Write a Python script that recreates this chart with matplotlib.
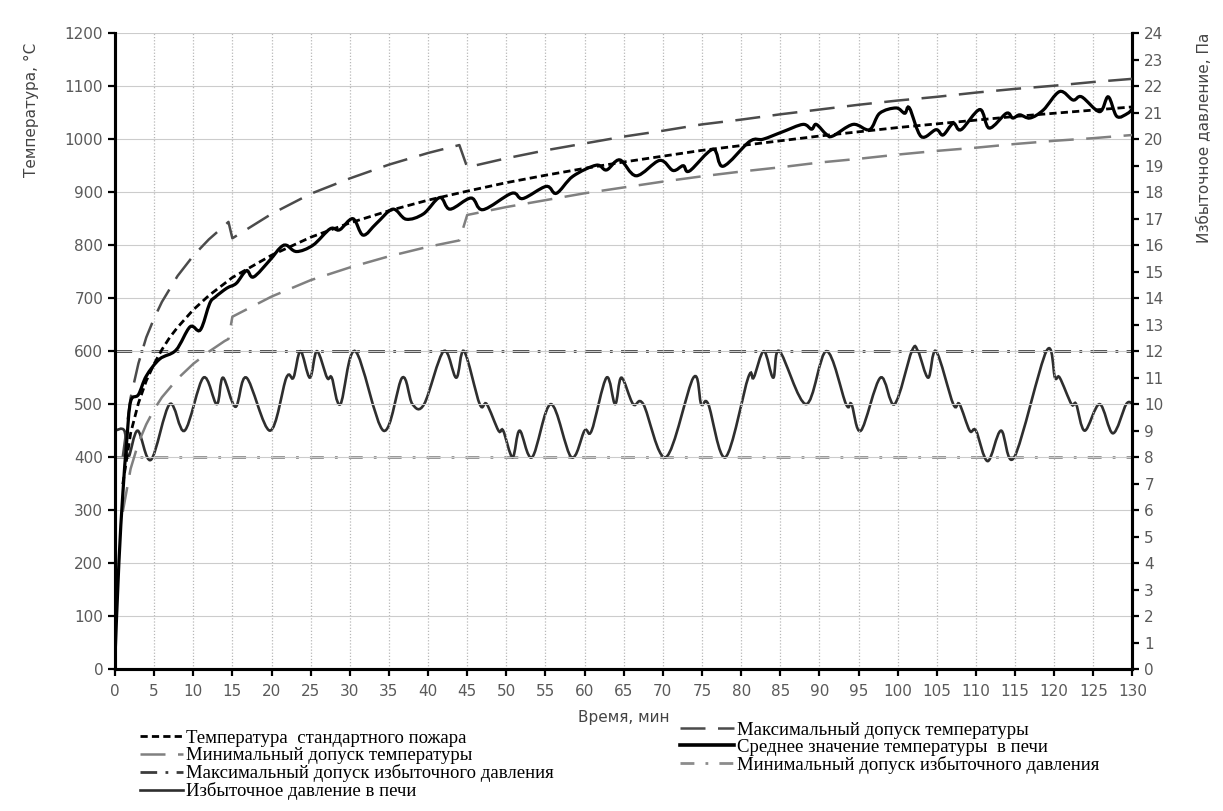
import numpy as np
import matplotlib
matplotlib.use("Agg")
import matplotlib.pyplot as plt
from matplotlib.path import Path
from matplotlib.patches import PathPatch
from matplotlib.lines import Line2D

# ---------------- data ----------------
# Standard fire temperature, °C
std_t = [1, 2, 3, 4, 5, 6, 7, 8, 10, 12, 15, 20, 25, 30, 35, 40, 45, 50, 55, 60,
         65, 70, 75, 80, 85, 90, 95, 100, 105, 110, 115, 120, 125, 130]
std_v = [349, 445, 502, 544, 576, 603, 626, 645, 678, 705, 739, 781, 815, 842, 865,
         885, 902, 918, 932, 945, 957, 968, 979, 988, 997, 1006, 1014, 1022, 1029,
         1036, 1043, 1049, 1055, 1061]

# Temperature tolerance band, °C
tol_t = [1, 2, 3, 4, 5, 6, 8, 10, 12, 14, 14.5, 15, 20, 25, 30, 35, 40, 44, 45, 50,
         55, 60, 65, 70, 75, 80, 85, 90, 95, 100, 105, 110, 115, 120, 125, 130]
tmax_v = [401, 512, 577, 626, 662, 693, 742, 780, 811, 837, 844, 813, 859, 897, 926,
          952, 974, 989, 947, 964, 979, 992, 1005, 1016, 1028, 1037, 1047, 1056, 1065,
          1073, 1080, 1088, 1095, 1101, 1108, 1114]
tmin_v = [297, 378, 427, 462, 490, 513, 548, 576, 599, 619, 623, 665, 703, 734, 758,
          779, 797, 809, 857, 872, 885, 898, 909, 920, 930, 939, 947, 956, 963, 971,
          978, 984, 991, 997, 1002, 1008]

# Mean furnace temperature, °C
temp_t = [0, 0.5, 1.0, 1.5, 2.0, 3.0, 4.0, 5.7, 7.8, 9.6, 10.9, 12.1, 12.8, 14.3, 15.5,
          16.8, 17.7, 19.8, 21.1, 21.9, 23.2, 25.3, 27.5, 28.7, 30.4, 31.7, 33.4, 35.5,
          37.2, 39.4, 41.5, 42.8, 45.5, 47.0, 50.7, 52.1, 55.1, 56.4, 58.5, 61.5, 62.8,
          64.5, 66.6, 69.6, 71.3, 72.6, 73.4, 76.4, 77.7, 81.1, 82.8, 85.3, 87.9, 89.0,
          89.6, 90.9, 91.7, 94.3, 96.4, 97.7, 99.8, 100.9, 101.5, 103.0, 104.9, 105.8,
          107.1, 108.1, 110.5, 111.7, 113.9, 114.7, 115.6, 116.9, 118.6, 120.7, 122.4,
          123.5, 125.8, 126.9, 128.0, 129.4, 130.0]
temp_v = [20, 200, 330, 430, 505, 518, 553, 585, 602, 646, 640, 690, 702, 719, 728,
          752, 740, 772, 795, 800, 788, 800, 831, 829, 850, 819, 841, 868, 849, 859,
          890, 868, 889, 867, 898, 888, 911, 898, 930, 951, 942, 961, 931, 960, 941,
          950, 940, 981, 949, 996, 1000, 1014, 1028, 1019, 1028, 1009, 1006, 1028,
          1018, 1049, 1059, 1049, 1059, 1005, 1018, 1008, 1030, 1018, 1056, 1021, 1049,
          1040, 1046, 1040, 1055, 1090, 1074, 1080, 1052, 1080, 1043, 1049, 1058]

# Furnace over-pressure, Pa
press_t = [0, 1.2, 1.7, 2.9, 4.6, 7.0, 8.9, 11.3, 13.0, 13.8, 15.4, 16.8, 19.8, 21.9,
           22.8, 23.7, 24.9, 25.8, 27.1, 27.7, 28.8, 30.7, 34.3, 36.7, 38.0, 39.5, 42.0,
           43.6, 44.6, 46.6, 47.5, 49.0, 49.6, 50.8, 51.7, 53.3, 55.7, 58.3, 60.0, 60.9,
           62.8, 63.9, 64.7, 66.2, 67.5, 70.4, 73.9, 74.9, 75.8, 78.0, 80.9, 81.6, 82.9,
           84.1, 84.9, 88.3, 90.9, 93.4, 94.1, 95.3, 97.8, 99.6, 101.8, 102.6, 103.9,
           104.9, 107.1, 107.9, 109.2, 110.0, 111.5, 113.2, 114.9, 119.0, 120.1, 120.7,
           122.2, 122.8, 123.9, 125.8, 127.5, 129.2, 130.0]
press_v = [9, 9, 8, 9, 7.9, 10, 9, 11, 10, 11, 9.9, 11, 9, 11, 11, 12, 11, 12, 11, 11,
           10, 12, 9, 11, 10, 10, 12, 11, 12, 10, 10, 9, 9, 8, 9, 8, 10, 8, 9, 9, 11,
           10, 11, 10, 10, 8, 11, 10, 10, 8, 11, 11, 12, 11, 12, 10, 12, 10, 10, 9, 11,
           10, 12, 12, 11, 12, 10, 10, 9, 9, 7.85, 9, 8, 12, 11, 11, 10, 10, 9, 10, 8.9,
           10, 10]

# Pressure tolerances, Pa
p_lim_t = [0, 130]
pmax_v = [12, 12]
pmin_v = [8, 8]

x_ticks = list(range(0, 131, 5))
t_ticks = list(range(0, 1201, 100))
p_ticks = list(range(0, 25))

labels = {
    "std": "Температура  стандартного пожара",
    "tmax": "Максимальный допуск температуры",
    "tmin": "Минимальный допуск температуры",
    "temp": "Среднее значение температуры  в печи",
    "pmax": "Максимальный допуск избыточного давления",
    "pmin": "Минимальный допуск избыточного давления",
    "press": "Избыточное давление в печи",
}

# ---------------- helpers ----------------
def smooth_path(x, y):
    """Catmull-Rom style smoothed path (like a spreadsheet 'smoothed line')."""
    x = np.asarray(x, float)
    y = np.asarray(y, float)
    n = len(x)
    verts = [(x[0], y[0])]
    codes = [Path.MOVETO]
    for i in range(n - 1):
        x0, y0 = (x[i - 1], y[i - 1]) if i > 0 else (x[i], y[i])
        x3, y3 = (x[i + 2], y[i + 2]) if i + 2 < n else (x[i + 1], y[i + 1])
        c1 = (x[i] + (x[i + 1] - x0) / 6.0, y[i] + (y[i + 1] - y0) / 6.0)
        c2 = (x[i + 1] - (x3 - x[i]) / 6.0, y[i + 1] - (y3 - y[i]) / 6.0)
        verts += [c1, c2, (x[i + 1], y[i + 1])]
        codes += [Path.CURVE4, Path.CURVE4, Path.CURVE4]
    return Path(verts, codes)

# ---------------- figure ----------------
fig = plt.figure(figsize=(12.23, 8.11), dpi=100)
ax = fig.add_axes([0.094, 0.175, 0.832, 0.784])
ax2 = ax.twinx()

tick_color = "#5a5a5a"
ax.set_xlim(0, 130)
ax.set_ylim(0, 1200)
ax2.set_ylim(0, 24)
ax.set_xticks(x_ticks)
ax.set_yticks(t_ticks)
ax2.set_yticks(p_ticks)

ax.grid(True, axis="x", color="#b8b8b8", linestyle=(0, (1, 1.5)), linewidth=0.9)
ax.grid(True, axis="y", color="#cccccc", linestyle="-", linewidth=0.8)
ax.set_axisbelow(True)

for a in (ax, ax2):
    a.spines["top"].set_visible(False)
    for s in ("left", "right", "bottom"):
        a.spines[s].set_linewidth(2.2)
        a.spines[s].set_color("black")
ax.tick_params(axis="both", direction="out", length=5, width=1.6, colors="black",
               labelcolor=tick_color, labelsize=11)
ax2.tick_params(axis="y", direction="out", length=5, width=1.6, colors="black",
                labelcolor=tick_color, labelsize=11)
ax.tick_params(axis="x", pad=6)

# temperature tolerance lines
l_tmax, = ax.plot(tol_t, tmax_v, color="#4b4b4b", lw=1.8, dashes=(10, 5), zorder=3)
l_tmin, = ax.plot(tol_t, tmin_v, color="#808080", lw=1.8, dashes=(10, 5), zorder=3)
# standard fire curve
l_std, = ax.plot(std_t, std_v, color="black", lw=2.0, dashes=(2.6, 1.5), zorder=4)

# pressure tolerance lines
l_pmax, = ax2.plot(p_lim_t, pmax_v, color="#3c3c3c", lw=2.0, dashes=(6, 3, 1, 3), zorder=3)
l_pmin, = ax2.plot(p_lim_t, pmin_v, color="#8c8c8c", lw=2.0, dashes=(5, 4, 1, 4), zorder=3)

# furnace pressure (smoothed)
ax2.add_patch(PathPatch(smooth_path(press_t, press_v), facecolor="none",
                        edgecolor="#2e2e2e", lw=1.9, zorder=4))
l_press = Line2D([], [], color="#2e2e2e", lw=1.9)

# mean furnace temperature (smoothed)
ax.add_patch(PathPatch(smooth_path(temp_t, temp_v), facecolor="none",
                       edgecolor="black", lw=2.3, zorder=6))
l_temp = Line2D([], [], color="black", lw=2.6)
# keep temperature curves on top of the pressure axis
ax.set_zorder(ax2.get_zorder() + 1)
ax.patch.set_visible(False)

# axis labels
ax.set_ylabel("Температура, °C", fontsize=11, color="#444444")
ax.yaxis.set_label_coords(-0.075, 0.88)
ax2.set_ylabel("Избыточное давление, Па", fontsize=11, color="#444444")
ax2.yaxis.set_label_coords(1.063, 0.835)
ax.set_xlabel("Время, мин", fontsize=11, color="#444444", labelpad=8)

# legends
leg_font = {"family": "Liberation Serif", "size": 13.5}
leg1 = fig.legend([l_std, l_tmin, l_pmax, l_press],
                  [labels["std"], labels["tmin"], labels["pmax"], labels["press"]],
                  loc="upper left", bbox_to_anchor=(0.1145, 0.1), frameon=False,
                  prop=leg_font, handlelength=2.3, handletextpad=0.15,
                  labelspacing=0.0, borderpad=0, borderaxespad=0)
leg2 = fig.legend([l_tmax, l_temp, l_pmin],
                  [labels["tmax"], labels["temp"], labels["pmin"]],
                  loc="upper left", bbox_to_anchor=(0.556, 0.11), frameon=False,
                  prop=leg_font, handlelength=2.9, handletextpad=0.15,
                  labelspacing=0.0, borderpad=0, borderaxespad=0)

fig.savefig("out.png", dpi=100)
